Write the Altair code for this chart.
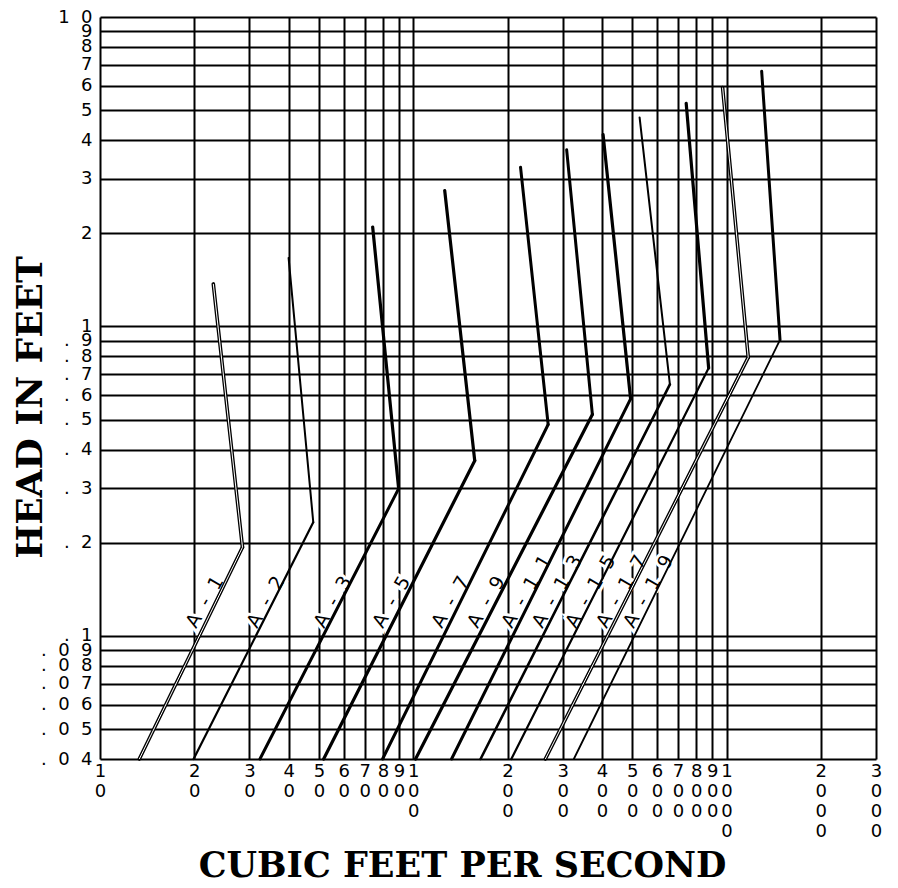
import altair as alt
import pandas as pd

# ---------------- axis ticks and labels ----------------
x_ticks = [10, 20, 30, 40, 50, 60, 70, 80, 90, 100, 200, 300, 400, 500, 600,
           700, 800, 900, 1000, 2000, 3000]
x_tick_labels = ["10", "20", "30", "40", "50", "60", "70", "80", "90", "100",
                 "200", "300", "400", "500", "600", "700", "800", "900",
                 "1000", "2000", "3000"]
y_ticks = [0.04, 0.05, 0.06, 0.07, 0.08, 0.09, 0.1, 0.2, 0.3, 0.4, 0.5, 0.6,
           0.7, 0.8, 0.9, 1, 2, 3, 4, 5, 6, 7, 8, 9, 10]
y_tick_labels = [".04", ".05", ".06", ".07", ".08", ".09", ".1", ".2", ".3",
                 ".4", ".5", ".6", ".7", ".8", ".9", "1", "2", "3", "4", "5",
                 "6", "7", "8", "9", "10"]

# ---------------- curves (cfs, head in feet) ----------------
nozzles = ["A-1", "A-2", "A-3", "A-5", "A-7", "A-9", "A-11", "A-13", "A-15",
           "A-17", "A-19"]
q_bottom = [13.35, 19.9, 32.4, 51.75, 79.8, 101.7, 132.5, 164.0, 205.6, 264.0, 325.5]
h_bottom = [0.04, 0.04, 0.04, 0.04, 0.04, 0.04, 0.04, 0.04, 0.04, 0.04, 0.04]
q_knee = [28.5, 47.95, 89.8, 157.1, 269.5, 373.0, 494.0, 659.5, 876.9, 1173.0, 1481.6]
h_knee = [0.1933, 0.2329, 0.299, 0.3683, 0.482, 0.5195, 0.5832, 0.6496, 0.7334, 0.794, 0.9047]
q_top = [23.0, 40.0, 74.2, 126.0, 220.0, 308.8, 403.6, 527.8, 743.4, 971.5, 1294.5]
h_top = [1.372, 1.665, 2.096, 2.75, 3.27, 3.723, 4.17, 4.737, 5.255, 5.912, 6.683]

# label anchors (start of each rotated label)
label_q = [20.26, 31.7, 51.9, 79.9, 123.2, 160.4, 206.2, 258.2, 330.3, 414.0, 505.0]
label_h = [0.105, 0.105, 0.105, 0.105, 0.105, 0.105, 0.105, 0.105, 0.105, 0.105, 0.105]

# ---------------- line styles ----------------
upper_style = ["double", 2.0, 3.2, 3.2, 3.0, 3.0, 3.2, 2.0, 3.2, "double", 3.0]
lower_style = ["double", 2.2, 3.0, 3.2, 3.0, 3.2, 3.0, 2.6, 2.2, "double", 1.8]
DOUBLE_OUTER = 3.6
DOUBLE_INNER = 1.0

SEP = "\u00a0\u00a0"

seg_rows = []
center_rows = []
for i, name in enumerate(nozzles):
    for part, style, pts in (
        ("lower", lower_style[i], [(q_bottom[i], h_bottom[i]), (q_knee[i], h_knee[i])]),
        ("upper", upper_style[i], [(q_knee[i], h_knee[i]), (q_top[i], h_top[i])]),
    ):
        w = DOUBLE_OUTER if style == "double" else style
        for k, (q, h) in enumerate(pts):
            seg_rows.append({"seg": f"{name} {part}", "pt": k, "Q": q, "H": h, "w": w})
    if upper_style[i] == "double" and lower_style[i] == "double":
        for k, (q, h) in enumerate([(q_bottom[i], h_bottom[i]), (q_knee[i], h_knee[i]),
                                     (q_top[i], h_top[i])]):
            center_rows.append({"seg": name, "pt": k, "Q": q, "H": h})

seg_df = pd.DataFrame(seg_rows)
center_df = pd.DataFrame(center_rows)
label_df = pd.DataFrame({"Q": label_q, "H": label_h,
                         "t": [SEP.join(list(n)) for n in nozzles]})

xl_js = "[" + ",".join("'" + s + "'" for s in x_tick_labels) + "]"
xv_js = "[" + ",".join(repr(v) for v in x_ticks) + "]"
yl_js = "[" + ",".join("'" + SEP.join(list(s)) + "'" for s in y_tick_labels) + "]"
yv_js = "[" + ",".join(repr(v) for v in y_ticks) + "]"

LABEL_FONT = "DejaVu Sans"
TITLE_FONT = "DejaVu Serif"

X = alt.X(
    "Q:Q",
    scale=alt.Scale(type="log", domain=[10, 3000], nice=False),
    axis=alt.Axis(
        values=x_ticks, grid=True, gridColor="black", gridWidth=2, gridOpacity=1,
        ticks=False, tickSize=0, domain=False,
        labelExpr=f"split({xl_js}[indexof({xv_js}, datum.value)], '')",
        labelFont=LABEL_FONT, labelFontSize=18, labelLineHeight=20,
        labelBaseline="top", labelAlign="center", labelPadding=3,
        labelOverlap=False, labelFlush=False, labelBound=False, labelColor="black",
        title="CUBIC FEET PER SECOND", titleFont=TITLE_FONT, titleFontWeight="bold",
        titleFontSize=35, titleColor="black", titleX=362, titleY=117,
        titleAlign="center", titleBaseline="alphabetic",
    ),
)
Y = alt.Y(
    "H:Q",
    scale=alt.Scale(type="log", domain=[0.04, 10], nice=False),
    axis=alt.Axis(
        values=y_ticks, grid=True, gridColor="black", gridWidth=2, gridOpacity=1,
        ticks=False, tickSize=0, domain=False,
        labelExpr=f"{yl_js}[indexof({yv_js}, datum.value)]",
        labelFont=LABEL_FONT, labelFontSize=18, labelBaseline="middle",
        labelAlign="right", labelPadding=8,
        labelOverlap=False, labelFlush=False, labelBound=False, labelColor="black",
        title="HEAD IN FEET", titleFont=TITLE_FONT, titleFontWeight="bold",
        titleFontSize=36, titleColor="black", titleX=-59, titleY=390,
        titleAngle=270, titleAlign="center", titleBaseline="alphabetic",
    ),
)

halo = alt.Chart(label_df).mark_text(
    angle=300, align="left", baseline="alphabetic", font=LABEL_FONT, fontSize=19,
    color="white", stroke="white", strokeWidth=6,
).encode(x=X, y=Y, text="t:N")

lines = alt.Chart(seg_df).mark_line(
    color="black", strokeCap="round", strokeJoin="round"
).encode(
    x=X, y=Y, detail="seg:N", order="pt:Q",
    strokeWidth=alt.StrokeWidth("w:Q", scale=None),
)

centers = alt.Chart(center_df).mark_line(
    color="white", strokeWidth=DOUBLE_INNER, strokeJoin="miter"
).encode(x=X, y=Y, detail="seg:N", order="pt:Q")

labels = alt.Chart(label_df).mark_text(
    angle=300, align="left", baseline="alphabetic", font=LABEL_FONT, fontSize=19,
    color="black",
).encode(x=X, y=Y, text="t:N")

chart = alt.layer(halo, lines, centers, labels).properties(
    width=776, height=742,
    autosize=alt.AutoSizeParams(type="none"),
    padding={"left": 92, "top": 9, "right": 14, "bottom": 125},
    background="white",
).configure_view(stroke=None)

chart.save("out.html", embed_options={"renderer": "svg", "actions": False})
